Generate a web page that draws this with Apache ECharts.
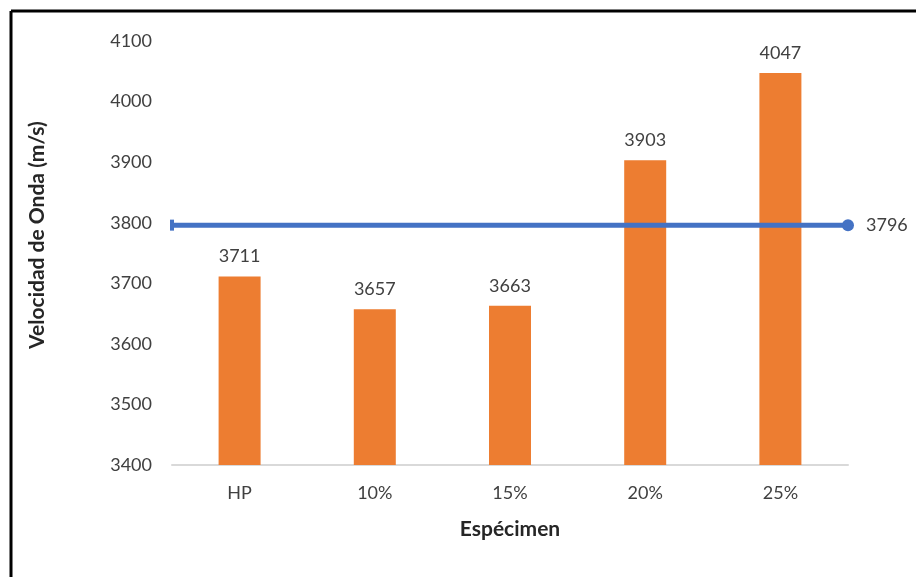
<!DOCTYPE html>
<html>
<head>
<meta charset="utf-8">
<script src="https://cdn.jsdelivr.net/npm/echarts@6/dist/echarts.min.js"></script>
<style>
  html, body { margin: 0; padding: 0; background: #fff; }
  #chart { width: 916px; height: 577px; }
</style>
</head>
<body>
<div id="chart"></div>
<script>
// Wave velocity per specimen, with the overall average drawn as a horizontal line
const categories = ['HP', '10%', '15%', '20%', '25%'];
const velocities = [3711, 3657, 3663, 3903, 4047];
const average = 3796;
const yTicks = { min: 3400, max: 4100, step: 100 };

const font = 'Lato, "Open Sans", sans-serif';
const chart = echarts.init(document.getElementById('chart'), null, { renderer: 'canvas' });

chart.setOption({
  animation: false,
  backgroundColor: '#ffffff',
  textStyle: { fontFamily: font },
  grid: { left: 172, right: 68, top: 41, bottom: 112, containLabel: false },
  graphic: [
    { type: 'line', shape: { x1: 11, y1: 11, x2: 916, y2: 11 }, style: { stroke: '#000', lineWidth: 3 } },
    { type: 'line', shape: { x1: 11, y1: 11, x2: 11, y2: 577 }, style: { stroke: '#000', lineWidth: 3 } }
  ],
  xAxis: [
    {
      type: 'category',
      data: categories,
      axisLine: { lineStyle: { color: '#d9d9d9', width: 2 } },
      axisTick: { show: false },
      axisLabel: { color: '#404040', fontSize: 18, margin: 19, fontFamily: font },
      name: 'Espécimen',
      nameLocation: 'middle',
      nameGap: 54,
      nameTextStyle: { color: '#262626', fontSize: 21, fontWeight: 'bold', fontFamily: font }
    },
    { type: 'value', min: 0, max: 1, show: false }
  ],
  yAxis: {
    type: 'value',
    min: yTicks.min,
    max: yTicks.max,
    interval: yTicks.step,
    splitLine: { show: false },
    axisLine: { show: false },
    axisTick: { show: false },
    axisLabel: { color: '#404040', fontSize: 18, margin: 20, fontFamily: font, formatter: v => String(v) },
    name: 'Velocidad de Onda (m/s)',
    nameLocation: 'middle',
    nameGap: 124,
    nameTextStyle: { color: '#262626', fontSize: 21, fontWeight: 'bold', fontFamily: font, padding: [0, 0, 0, 36] }
  },
  series: [
    {
      type: 'bar',
      data: velocities,
      barWidth: 42,
      itemStyle: { color: '#ED7D31' },
      label: { show: true, position: 'top', distance: 11, color: '#404040', fontSize: 18, fontFamily: font }
    },
    {
      type: 'line',
      xAxisIndex: 1,
      data: [
        { value: [0, average], symbol: 'rect', symbolSize: [4, 11] },
        { value: [1, average], symbol: 'circle', symbolSize: 12,
          label: { show: true, position: 'right', distance: 12, color: '#404040', fontSize: 18, fontFamily: font,
                   formatter: p => p.value[1] } }
      ],
      lineStyle: { color: '#4472C4', width: 5 },
      itemStyle: { color: '#4472C4' },
      z: 5
    }
  ]
});
</script>
</body>
</html>
